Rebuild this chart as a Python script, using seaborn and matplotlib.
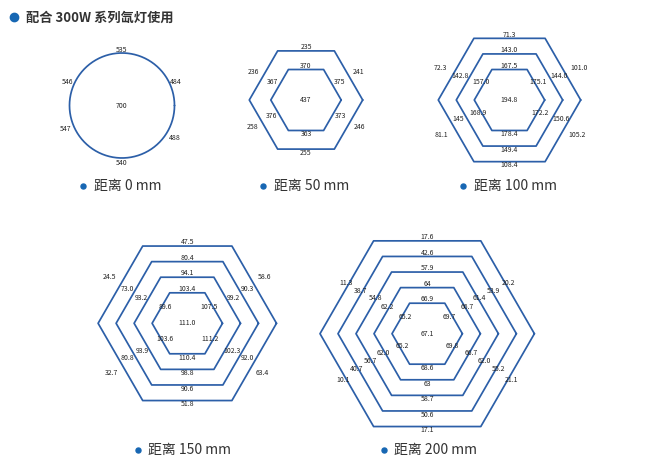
import numpy as np
import pandas as pd
import matplotlib
matplotlib.use('Agg')
import matplotlib.pyplot as plt
import seaborn as sns

# values
title = '配合 300W 系列氙灯使用'
captions = ['距离 0 mm', '距离 50 mm', '距离 100 mm', '距离 150 mm', '距离 200 mm']

# label order on every ring: top, upper-right, lower-right, bottom, lower-left, upper-left
centre_0 = '700'
ring_0 = ['535', '484', '488', '540', '547', '546']

centre_50 = '437'
rings_50 = [['370', '375', '373', '363', '376', '367'],
            ['235', '241', '246', '255', '258', '236']]

centre_100 = '194.8'
rings_100 = [['167.5', '175.1', '172.2', '178.4', '168.9', '157.0'],
             ['143.0', '144.0', '150.6', '149.4', '145', '142.8'],
             ['71.3', '101.0', '105.2', '108.4', '81.1', '72.3']]

centre_150 = '111.0'
rings_150 = [['103.4', '107.5', '111.2', '110.4', '103.6', '89.6'],
             ['94.1', '99.2', '102.3', '98.8', '93.9', '93.2'],
             ['80.4', '90.3', '92.0', '90.6', '80.8', '73.0'],
             ['47.5', '58.6', '63.4', '51.8', '32.7', '24.5']]

centre_200 = '67.1'
rings_200 = [['66.9', '69.7', '69.8', '68.6', '65.2', '65.2'],
             ['64', '66.7', '66.7', '63', '62.0', '62.2'],
             ['57.9', '61.4', '62.0', '58.7', '56.7', '54.8'],
             ['42.6', '53.9', '55.2', '50.6', '40.7', '38.7'],
             ['17.6', '20.2', '21.1', '17.1', '10.1', '11.3']]

# layout (pixels, figure is 650 x 466)
line_c = '#2c5fa8'
dot_c = '#1767b3'
txt_c = '#333333'
num_c = '#222222'

circle_c = (122, 105.5)
circle_r = 52.5
circle_lab_r = [55, 58.5, 62.3, 57.2, 61.4, 59]
circle_lab_ang = [90, 23.4, -31.8, -90, 202.5, 156.9]

hex_panels = [
    # centre, ring radii, slant offsets, upper angles, lower angles, centre label, rings
    ((306, 100), [35.2, 56.7], [7.7, 10.6], [28.8, 28.2], [24.1, 26.4], centre_50, rings_50),
    ((509.5, 100), [35.2, 53.2, 71.2], [3.2, 8.7, 14.6], [32.5, 25.7, 24.4], [22.9, 20.0, 27.3],
     centre_100, rings_100),
    ((187.3, 323.3), [35.2, 53.2, 71.2, 89.2], [-3.3, 6.4, 7.6, 13.2], [35.7, 29.1, 29.5, 31.1],
     [34.5, 31.5, 30.4, 33.6], centre_150, rings_150),
    ((427.2, 333.7), [35.2, 53.2, 71.2, 89.2, 107.2], [-3, 2.3, 1.4, 1.8, 3.2],
     [37.7, 33.5, 34.6, 32.7, 32.0], [26.3, 23.8, 25.4, 26.2, 28.6], centre_200, rings_200),
]
caption_pos = [(122, 186), (306, 186), (509.5, 186), (184, 450), (430, 450)]

sns.set_theme(style='white')
plt.rcParams['font.family'] = ['Noto Sans CJK SC', 'DejaVu Sans']

fig = plt.figure(figsize=(6.5, 4.66), dpi=100)
ax = fig.add_axes([0, 0, 1, 1])

# outlines
rows = []
t = np.linspace(0, 2 * np.pi, 361)
for x, y in zip(circle_c[0] + circle_r * np.cos(t), circle_c[1] - circle_r * np.sin(t)):
    rows.append(('c', x, y))
for p, (c, radii, *_rest) in enumerate(hex_panels):
    a = np.radians(np.arange(0, 361, 60))
    for k, R in enumerate(radii):
        for x, y in zip(c[0] + R * np.cos(a), c[1] - R * np.sin(a)):
            rows.append((f'h{p}_{k}', x, y))
shapes = pd.DataFrame(rows, columns=['shape', 'x', 'y'])
sns.lineplot(data=shapes, x='x', y='y', units='shape', estimator=None, sort=False,
             color=line_c, lw=1.25, ax=ax, legend=False)

def put(x, y, s):
    ax.text(x, y, s, ha='center', va='center', fontsize=5, color=num_c)

# circle labels
put(circle_c[0], circle_c[1] + 1, centre_0)
for s, r, ang in zip(ring_0, circle_lab_r, circle_lab_ang):
    put(circle_c[0] + r * np.cos(np.radians(ang)), circle_c[1] - r * np.sin(np.radians(ang)), s)

# hexagon labels
for c, radii, offs, ups, dns, mid, rings in hex_panels:
    put(c[0], c[1], mid)
    for R, off, up, dn, vals in zip(radii, offs, ups, dns, rings):
        ap = R * np.sqrt(3) / 2
        rr = [ap + 3.8, ap + off, ap + off, ap + 3.8, ap + off, ap + off]
        angs = [90, up, -dn, -90, 180 + dn, 180 - up]
        for s, r, ang in zip(vals, rr, angs):
            put(c[0] + r * np.cos(np.radians(ang)), c[1] - r * np.sin(np.radians(ang)), s)

# title
ax.plot([14], [17], 'o', color=dot_c, ms=6)
ax.text(26, 17.5, title, ha='left', va='center', fontsize=9.5, fontweight='bold', color=txt_c)

# captions
cap_txt = []
for s, (x, y) in zip(captions, caption_pos):
    cap_txt.append(ax.text(x + 6, y, s, ha='center', va='center', fontsize=10, color=txt_c))

ax.set_xlim(0, 650)
ax.set_ylim(466, 0)
ax.axis('off')

fig.canvas.draw()
inv = ax.transData.inverted()
for tx, (x, y) in zip(cap_txt, caption_pos):
    bb = tx.get_window_extent()
    bx = inv.transform((bb.x0, bb.y0))[0]
    ax.plot([bx - 11], [y], 'o', color=dot_c, ms=3.6)

fig.savefig('out.png', dpi=100)
